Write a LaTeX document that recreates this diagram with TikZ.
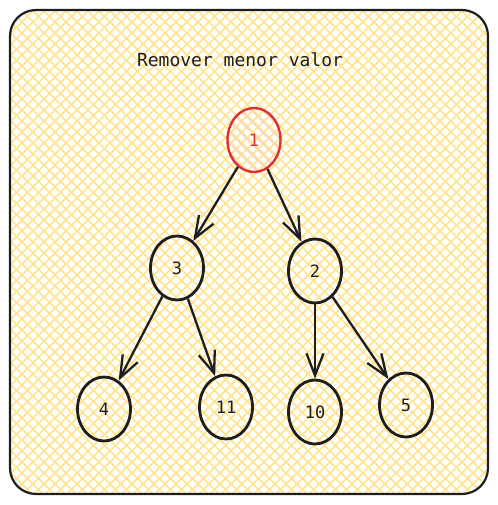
\documentclass[tikz,border=0pt]{standalone}
\usepackage{fontspec}
\setmonofont{DejaVu Sans Mono}
\usetikzlibrary{shapes.geometric,arrows.meta}
\definecolor{hatchy}{HTML}{FFE48C}
\definecolor{exred}{HTML}{E03131}
\definecolor{exblack}{HTML}{1E1E1E}
\tikzset{
  treenode/.style={ellipse, draw=exblack, line width=2.8pt, inner sep=0pt,
    minimum width=53pt, minimum height=64pt, font=\ttfamily\fontsize{17}{17}\selectfont, text=exblack},
  rootnode/.style={treenode, draw=exred, text=exred, line width=2.4pt},
  edge/.style={draw=exblack, line width=2.3pt, -{Straight Barb[length=22pt,width=17pt,line width=2.3pt]}},
  hatchline/.style={hatchy, line width=1.6pt},
}
\begin{document}
\begin{tikzpicture}[x=1pt,y=-1pt]
\useasboundingbox (0,0) rectangle (497,505);
\begin{scope}
  \clip[rounded corners=26pt] (10,10) rectangle (488,494);
  \fill[white] (10,10) rectangle (488,494);
  \foreach \i in {-528,-517,...,1040} {
    \draw[hatchline] (\i,0) -- ++(520,520);
    \draw[hatchline] (\i,0) -- ++(-520,520);
  }
\end{scope}
\draw[exblack, line width=2.2pt, rounded corners=26pt] (10,10) rectangle (488,494);

\node[font=\ttfamily\fontsize{18}{18}\selectfont, text=exblack] (title) at (240,60) {Remover menor valor};

% extra pink hatch in root
\begin{scope}
  \clip (254,140) ellipse [x radius=27, y radius=32.5];
  \foreach \i in {-100,-89,...,500} {
    \draw[exred!22, line width=1.2pt] (\i,100) -- ++(90,90);
  }
\end{scope}

\node[rootnode] (n1) at (254,140) {1};
\node[treenode] (n3) at (177,268) {3};
\node[treenode] (n2) at (315,271) {2};
\node[treenode] (n4) at (104,409) {4};
\node[treenode] (n11) at (226,407) {11};
\node[treenode] (n10) at (315,412) {10};
\node[treenode] (n5) at (406,405) {5};

\draw[edge] (n1) -- (n3);
\draw[edge] (n1) -- (n2);
\draw[edge] (n3) -- (n4);
\draw[edge] (n3) -- (n11);
\draw[edge] (n2) -- (n10);
\draw[edge] (n2) -- (n5);
\end{tikzpicture}
\end{document}
